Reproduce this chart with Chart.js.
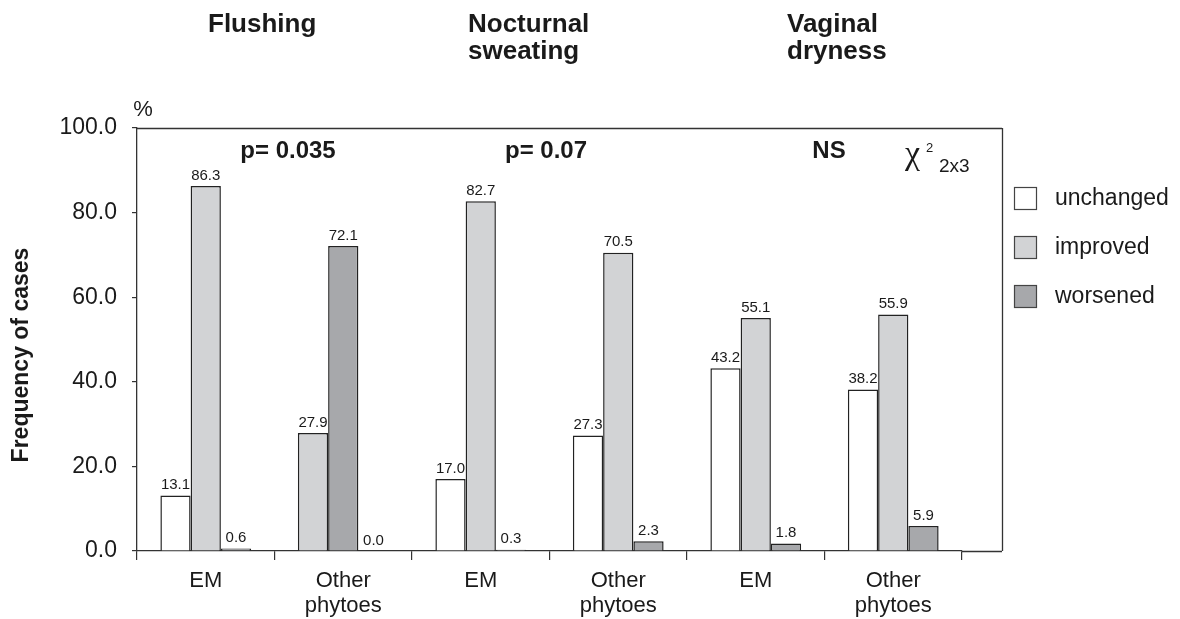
<!DOCTYPE html>
<html>
<head>
<meta charset="utf-8">
<style>
html,body{margin:0;padding:0;background:#fff;}
#wrap{width:1180px;height:619px;position:relative;}
</style>
<script src="https://cdn.jsdelivr.net/npm/chart.js@4.4.0/dist/chart.umd.min.js"></script>
</head>
<body>
<div id="wrap"><canvas id="c" width="1180" height="619"></canvas></div>
<script>
// ---- data ----
const categories = ["EM", ["Other", "phytoes"], "EM", ["Other", "phytoes"], "EM", ["Other", "phytoes"]];
const unchanged = [13.1, 27.9, 17.0, 27.3, 43.2, 38.2];
const improved  = [86.3, 72.1, 82.7, 70.5, 55.1, 55.9];
const worsened  = [0.6, 0.0, 0.3, 2.3, 1.8, 5.9];
const seriesNames = ["unchanged", "improved", "worsened"];
const yTicks = [0, 20, 40, 60, 80, 100];
const symptomTitles = [["Flushing"], ["Nocturnal", "sweating"], ["Vaginal", "dryness"]];
const pValues = ["p= 0.035", "p= 0.07", "NS"];

// ---- styles ----
const WHITE = "#ffffff", LIGHT = "#d2d3d5", DARK = "#a7a8ab", EDGE = "#222222";
const FONT = "'Liberation Sans', Arial, Helvetica, sans-serif";
// bar fills as printed in the figure (the second Flushing group is shaded shifted)
const unchangedFill = [WHITE, LIGHT, WHITE, WHITE, WHITE, WHITE];
const improvedFill  = [LIGHT, DARK, LIGHT, LIGHT, LIGHT, LIGHT];
const worsenedFill  = [DARK, DARK, DARK, DARK, DARK, DARK];
const legendFill = [WHITE, LIGHT, DARK];

const decor = {
  id: 'decor',
  afterDatasetsDraw(chart) {
    const ctx = chart.ctx;
    ctx.save();
    // value labels
    ctx.fillStyle = "#1a1a1a";
    ctx.font = "15px " + FONT;
    ctx.textAlign = "center";
    ctx.textBaseline = "bottom";
    chart.data.datasets.forEach((ds, di) => {
      const meta = chart.getDatasetMeta(di);
      meta.data.forEach((el, i) => {
        ctx.fillText(ds.data[i].toFixed(1), el.x, el.y - 3);
      });
    });
    ctx.restore();
  },
  afterDraw(chart) {
    const ctx = chart.ctx;
    const a = chart.chartArea;
    const frameRight = a.right + 40;
    ctx.save();
    // frame: top, right, baseline extension
    ctx.strokeStyle = "#333";
    ctx.lineWidth = 1.3;
    ctx.beginPath();
    ctx.moveTo(a.left, a.top + 0.5); ctx.lineTo(frameRight, a.top + 0.5);
    ctx.moveTo(frameRight + 0.5, a.top); ctx.lineTo(frameRight + 0.5, a.bottom);
    ctx.moveTo(a.right, a.bottom + 0.5); ctx.lineTo(frameRight, a.bottom + 0.5);
    ctx.stroke();

    ctx.fillStyle = "#1a1a1a";
    // y title
    ctx.save();
    ctx.translate(22, 355);
    ctx.rotate(-Math.PI / 2);
    ctx.font = "bold 23px " + FONT;
    ctx.textAlign = "center";
    ctx.textBaseline = "middle";
    ctx.fillText("Frequency of cases", 0, 0);
    ctx.restore();

    // percent sign
    ctx.font = "22px " + FONT;
    ctx.textAlign = "center";
    ctx.textBaseline = "alphabetic";
    ctx.fillText("%", 143, 116);

    // symptom titles
    ctx.font = "bold 26px " + FONT;
    ctx.textAlign = "left";
    const tx = [208, 468, 787];
    symptomTitles.forEach((lines, k) => {
      lines.forEach((t, j) => ctx.fillText(t, tx[k], 32 + j * 27));
    });

    // p values
    ctx.font = "bold 24px " + FONT;
    ctx.textAlign = "center";
    const px = [288, 546, 829];
    pValues.forEach((t, k) => ctx.fillText(t, px[k], 158));

    // chi-square
    ctx.textAlign = "left";
    ctx.font = "34px 'Liberation Serif', 'DejaVu Serif', serif";
    ctx.fillText("\u03C7", 905, 164);
    ctx.font = "13px " + FONT;
    ctx.fillText("2", 926, 152);
    ctx.font = "19px " + FONT;
    ctx.fillText("2x3", 939, 172);

    // legend
    const ly = [187, 236, 285];
    seriesNames.forEach((name, k) => {
      ctx.fillStyle = legendFill[k];
      ctx.fillRect(1014, ly[k], 22, 22);
      ctx.strokeStyle = "#444";
      ctx.lineWidth = 1.2;
      ctx.strokeRect(1014.5, ly[k] + 0.5, 22, 22);
      ctx.fillStyle = "#1a1a1a";
      ctx.font = "23px " + FONT;
      ctx.textBaseline = "middle";
      ctx.fillText(name, 1055, ly[k] + 12);
      ctx.textBaseline = "alphabetic";
    });
    ctx.restore();
  }
};

const barCommon = {
  borderColor: EDGE,
  borderWidth: 1.5,
  borderSkipped: 'bottom',
  categoryPercentage: 0.66,
  barPercentage: 1.0
};

new Chart(document.getElementById('c'), {
  type: 'bar',
  data: {
    labels: categories,
    datasets: [
      Object.assign({ label: seriesNames[0], data: unchanged, backgroundColor: unchangedFill }, barCommon),
      Object.assign({ label: seriesNames[1], data: improved, backgroundColor: improvedFill }, barCommon),
      Object.assign({ label: seriesNames[2], data: worsened, backgroundColor: worsenedFill }, barCommon)
    ]
  },
  options: {
    responsive: false,
    animation: false,
    layout: { padding: { left: 0, top: 128, right: 218, bottom: 0 } },
    plugins: { legend: { display: false }, tooltip: { enabled: false } },
    scales: {
      x: {
        offset: true,
        afterFit(s) { s.height = 68; },
        grid: { display: true, drawOnChartArea: false, drawTicks: true, tickLength: 9, color: "#333", offset: true, lineWidth: 1.2 },
        border: { display: true, color: "#333", width: 1.3 },
        ticks: { color: "#1a1a1a", font: { family: FONT, size: 22, lineHeight: 1.14 }, padding: 8, maxRotation: 0, autoSkip: false }
      },
      y: {
        min: 0, max: 100,
        afterFit(s) { s.width = 137; },
        afterBuildTicks(s) { s.ticks = yTicks.map(v => ({ value: v })); },
        grid: { display: true, drawOnChartArea: false, drawTicks: true, tickLength: 5, color: "#333", lineWidth: 1.2 },
        border: { display: true, color: "#333", width: 1.3 },
        ticks: { color: "#1a1a1a", font: { family: FONT, size: 23 }, padding: 15, callback: v => Number(v).toFixed(1) }
      }
    }
  },
  plugins: [decor]
});
</script>
</body>
</html>
